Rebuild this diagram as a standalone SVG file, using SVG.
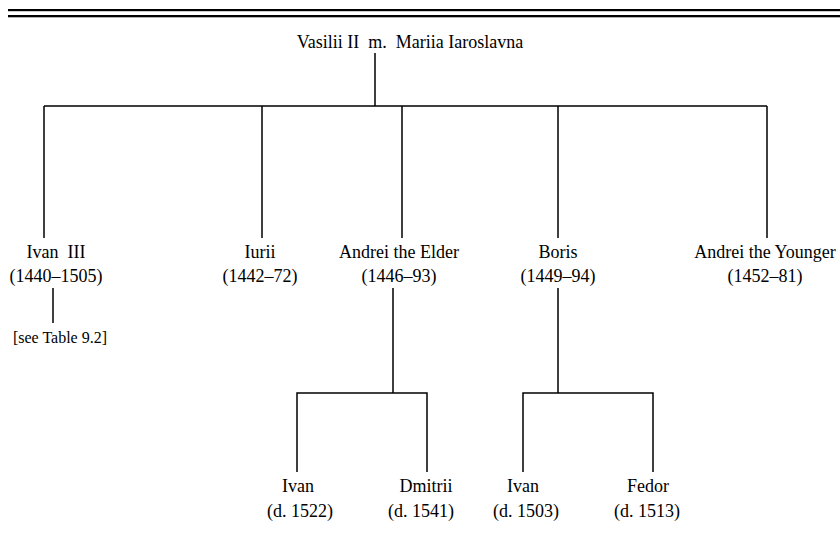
<svg xmlns="http://www.w3.org/2000/svg" width="840" height="540" viewBox="0 0 840 540">
  <style>
    .t { font-family: "Liberation Serif", "Times New Roman", serif; font-size: 18px; fill: #000; text-anchor: middle; white-space: pre; }
    .s { font-size: 16px; }
    .ln { stroke: #000; stroke-width: 1.5; fill: none; }
  </style>
  <rect width="840" height="540" fill="#fff"/>
  <!-- double rule at the top -->
  <rect x="8" y="9" width="832" height="2.2" fill="#000"/>
  <rect x="8" y="15" width="832" height="2.3" fill="#000"/>

  <g id="connectors">
    <path class="ln" d="M375 53 V106 M44 106 H767 M44 106 V238 M262 106 V238 M402 106 V238 M558 106 V238 M767 106 V238"/>
    <path class="ln" d="M53 288 V323"/>
    <path class="ln" d="M393 288 V393 M297 472 V393 H427 V472"/>
    <path class="ln" d="M558 288 V393 M523 472 V393 H653 V472"/>
  </g>

  <g id="vasilii"><text class="t" x="410" y="48" xml:space="preserve">Vasilii II  m.  Mariia Iaroslavna</text></g>
  <g id="ivan3">
    <text class="t" x="56" y="258" xml:space="preserve">Ivan  III</text>
    <text class="t" x="56" y="282">(1440–1505)</text>
  </g>
  <g id="see"><text class="t s" x="60" y="343">[see Table 9.2]</text></g>
  <g id="iurii">
    <text class="t" x="260" y="258">Iurii</text>
    <text class="t" x="260" y="282">(1442–72)</text>
  </g>
  <g id="andrei-elder">
    <text class="t" x="399" y="258">Andrei the Elder</text>
    <text class="t" x="399" y="282">(1446–93)</text>
  </g>
  <g id="boris">
    <text class="t" x="558" y="258">Boris</text>
    <text class="t" x="558" y="282">(1449–94)</text>
  </g>
  <g id="andrei-younger">
    <text class="t" x="765" y="258">Andrei the Younger</text>
    <text class="t" x="765" y="282">(1452–81)</text>
  </g>
  <g id="ivan-1522">
    <text class="t" x="298" y="492">Ivan</text>
    <text class="t" x="300" y="517">(d. 1522)</text>
  </g>
  <g id="dmitrii">
    <text class="t" x="426" y="492">Dmitrii</text>
    <text class="t" x="421" y="517">(d. 1541)</text>
  </g>
  <g id="ivan-1503">
    <text class="t" x="523" y="492">Ivan</text>
    <text class="t" x="526" y="517">(d. 1503)</text>
  </g>
  <g id="fedor">
    <text class="t" x="648" y="492">Fedor</text>
    <text class="t" x="647" y="517">(d. 1513)</text>
  </g>
</svg>
